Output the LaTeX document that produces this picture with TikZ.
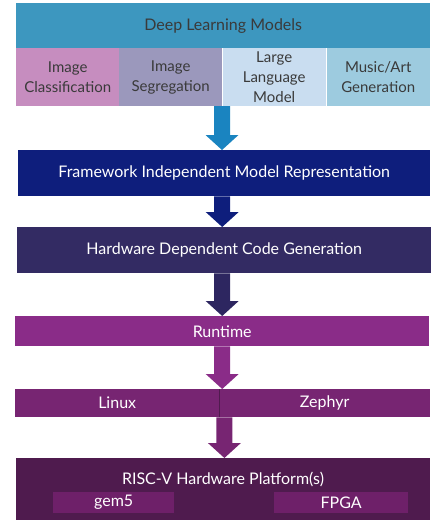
\documentclass[tikz,border=0pt]{standalone}
\usepackage{fontspec}
\setmainfont{Lato}
\usetikzlibrary{calc}
\definecolor{cTop}{HTML}{3D97BF}
\definecolor{cIC}{HTML}{C68DBF}
\definecolor{cIS}{HTML}{9B98BC}
\definecolor{cLLM}{HTML}{C9DDF0}
\definecolor{cMA}{HTML}{9DCBDF}
\definecolor{cArr}{HTML}{1A84C0}
\definecolor{cFIMR}{HTML}{0E1E7C}
\definecolor{cHDCG}{HTML}{332B63}
\definecolor{cHDCGa}{HTML}{2D2660}
\definecolor{cRun}{HTML}{8A2C88}
\definecolor{cOS}{HTML}{772572}
\definecolor{cHW}{HTML}{4F1B4E}
\definecolor{cSub}{HTML}{6E2069}
\definecolor{cDark}{HTML}{3A3A3A}
\tikzset{
  blk/.style={rectangle, inner sep=0pt, anchor=north west, font=\fontsize{16}{18}\selectfont, align=center},
  subtxt/.style={font=\fontsize{15}{20}\selectfont},
  dtext/.style={text=cDark},
  wtext/.style={text=white},
}
\newcommand{\blockarrow}[3]{%
  \coordinate (bas) at (#1);
  \coordinate (bae) at (bas |- #2);
  \fill[#3] ($(bas)+(-8,0)$) -- ($(bae)+(-8,-15)$) -- ($(bae)+(-16.5,-15)$) -- (bae) -- ($(bae)+(16.5,-15)$) -- ($(bae)+(8,-15)$) -- ($(bas)+(8,0)$) -- cycle;}
\begin{document}
\begin{tikzpicture}[x=1pt,y=-1pt]
\useasboundingbox (0,0) rectangle (439,520);
% top
\node[blk, dtext, fill=cTop, minimum width=414pt, minimum height=45pt] (dlm) at (16,3) {Deep Learning Models};
\node[blk, subtxt, dtext, fill=cIC, minimum width=103pt, minimum height=58pt] (ic) at (16,48) {Image\\Classification};
\node[blk, subtxt, dtext, fill=cIS, minimum width=103pt, minimum height=58pt] (is) at (119,48) {Image\\Segregation};
\node[blk, subtxt, dtext, fill=cLLM, minimum width=104pt, minimum height=58pt] (llm) at (222,48) {Large\\Language\\Model};
\node[blk, subtxt, dtext, fill=cMA, minimum width=104pt, minimum height=58pt] (ma) at (326,48) {Music/Art\\Generation};
\draw[white, line width=0.8pt] (llm.north west) -- (llm.south west) (llm.north east) -- (llm.south east);
\coordinate (a1s) at (222,106);
% FIMR
\node[blk, wtext, fill=cFIMR, minimum width=412pt, minimum height=46pt] (fimr) at (18,150) {Framework Independent Model Representation};
\blockarrow{a1s}{fimr.north}{cArr}
% HDCG
\node[blk, wtext, fill=cHDCG, minimum width=414pt, minimum height=46pt] (hdcg) at (17,227) {Hardware Dependent Code Generation};
\blockarrow{$(fimr.south)+(-2,0)$}{hdcg.north}{cFIMR}
% Runtime
\node[blk, wtext, fill=cRun, minimum width=414pt, minimum height=30pt] (run) at (15,316) {Runtime};
\blockarrow{$(hdcg.south)+(-2,0)$}{run.north}{cHDCGa}
% OS
\node[blk, wtext, fill=cOS, minimum width=204pt, minimum height=28pt] (linux) at (15,389) {Linux};
\node[blk, wtext, fill=cOS, minimum width=211pt, minimum height=28pt] (zephyr) at (219,389) {Zephyr};
\draw[cHW, line width=0.5pt] (linux.north east) -- (linux.south east);
\blockarrow{run.south}{linux.north east}{cRun}
% HW
\node[blk, fill=cHW, minimum width=414pt, minimum height=62pt] (hw) at (16,458) {};
\node[wtext, font=\fontsize{16}{18}\selectfont] (hwt) at (223,479) {RISC-V Hardware Platform(s)};
\node[blk, wtext, fill=cSub, minimum width=121pt, minimum height=21pt] (gem) at (53,492) {gem5};
\node[blk, wtext, fill=cSub, minimum width=134pt, minimum height=21pt] (fpga) at (274,492) {FPGA};
\blockarrow{$(linux.south east)+(5,0)$}{hw.north}{cOS}
\end{tikzpicture}
\end{document}
